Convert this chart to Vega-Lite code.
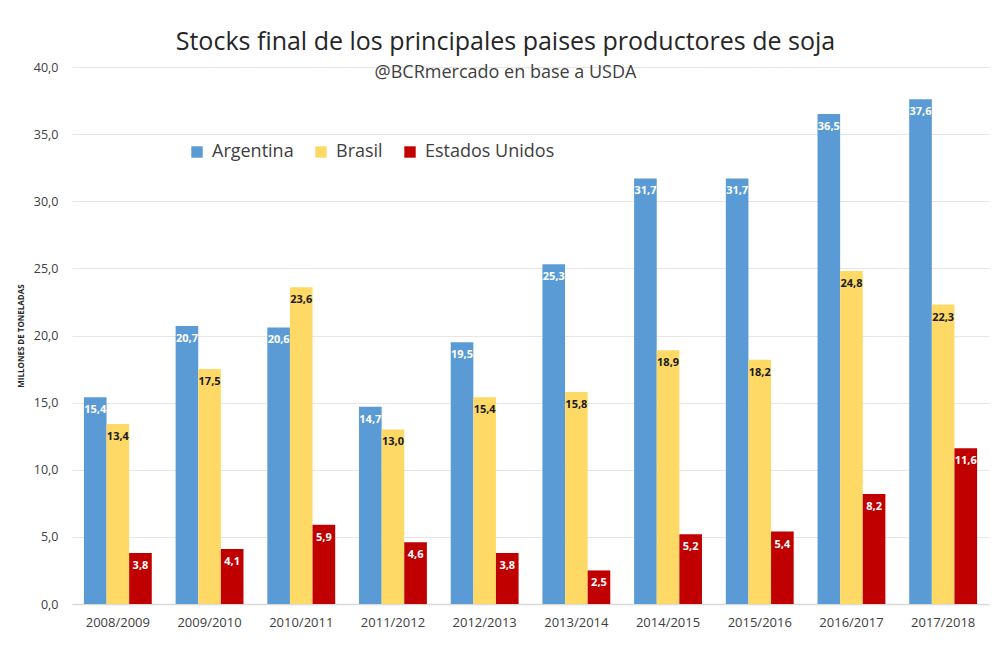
{
  "$schema": "https://vega.github.io/schema/vega-lite/v6.json",
  "width": 917,
  "height": 537,
  "autosize": {"type": "none"},
  "padding": {"left": 72, "top": 67, "right": 6, "bottom": 53},
  "background": "white",
  "config": {
    "locale": {"number": {"decimal": ",", "thousands": ".", "grouping": [3], "currency": ["", ""]}},
    "font": "Open Sans",
    "view": {"stroke": null}
  },
  "title": {
    "text": "Stocks final de los principales paises productores de soja",
    "subtitle": "@BCRmercado en base a USDA",
    "anchor": "middle",
    "fontSize": 25,
    "fontWeight": 500,
    "color": "#262626",
    "subtitleFontSize": 18,
    "subtitleColor": "#404040",
    "subtitlePadding": 9,
    "offset": -21,
    "dx": -25
  },
  "data": {
    "values": [
      {"season": "2008/2009", "series": "Argentina", "value": 15.4},
      {"season": "2008/2009", "series": "Brasil", "value": 13.4},
      {"season": "2008/2009", "series": "Estados Unidos", "value": 3.8},
      {"season": "2009/2010", "series": "Argentina", "value": 20.7},
      {"season": "2009/2010", "series": "Brasil", "value": 17.5},
      {"season": "2009/2010", "series": "Estados Unidos", "value": 4.1},
      {"season": "2010/2011", "series": "Argentina", "value": 20.6},
      {"season": "2010/2011", "series": "Brasil", "value": 23.6},
      {"season": "2010/2011", "series": "Estados Unidos", "value": 5.9},
      {"season": "2011/2012", "series": "Argentina", "value": 14.7},
      {"season": "2011/2012", "series": "Brasil", "value": 13.0},
      {"season": "2011/2012", "series": "Estados Unidos", "value": 4.6},
      {"season": "2012/2013", "series": "Argentina", "value": 19.5},
      {"season": "2012/2013", "series": "Brasil", "value": 15.4},
      {"season": "2012/2013", "series": "Estados Unidos", "value": 3.8},
      {"season": "2013/2014", "series": "Argentina", "value": 25.3},
      {"season": "2013/2014", "series": "Brasil", "value": 15.8},
      {"season": "2013/2014", "series": "Estados Unidos", "value": 2.5},
      {"season": "2014/2015", "series": "Argentina", "value": 31.7},
      {"season": "2014/2015", "series": "Brasil", "value": 18.9},
      {"season": "2014/2015", "series": "Estados Unidos", "value": 5.2},
      {"season": "2015/2016", "series": "Argentina", "value": 31.7},
      {"season": "2015/2016", "series": "Brasil", "value": 18.2},
      {"season": "2015/2016", "series": "Estados Unidos", "value": 5.4},
      {"season": "2016/2017", "series": "Argentina", "value": 36.5},
      {"season": "2016/2017", "series": "Brasil", "value": 24.8},
      {"season": "2016/2017", "series": "Estados Unidos", "value": 8.2},
      {"season": "2017/2018", "series": "Argentina", "value": 37.6},
      {"season": "2017/2018", "series": "Brasil", "value": 22.3},
      {"season": "2017/2018", "series": "Estados Unidos", "value": 11.6}
    ]
  },
  "encoding": {
    "x": {
      "field": "season",
      "type": "nominal",
      "sort": null,
      "scale": {"paddingInner": 0.26, "paddingOuter": 0.13},
      "axis": {
        "title": null,
        "labelAngle": 0,
        "labelFontSize": 13,
        "labelColor": "#404040",
        "labelPadding": 12,
        "ticks": false,
        "domainColor": "#d9d9d9",
        "domainWidth": 1.5
      }
    },
    "xOffset": {"field": "series", "type": "nominal", "scale": {"paddingInner": 0, "paddingOuter": 0}},
    "y": {
      "field": "value",
      "type": "quantitative",
      "scale": {"domain": [0, 40]},
      "axis": {
        "title": "MILLONES DE TONELADAS",
        "titleFontSize": 8,
        "titleFontWeight": "bold",
        "titleColor": "#262626",
        "titlePadding": 8,
        "values": [0, 5, 10, 15, 20, 25, 30, 35, 40],
        "format": ".1f",
        "labelFontSize": 12.5,
        "labelColor": "#404040",
        "labelPadding": 14,
        "ticks": false,
        "domain": false,
        "gridColor": "#e6e6e6",
        "gridWidth": 1
      }
    }
  },
  "layer": [
    {
      "mark": {"type": "bar"},
      "encoding": {
        "color": {
          "field": "series",
          "type": "nominal",
          "scale": {"domain": ["Argentina", "Brasil", "Estados Unidos"], "range": ["#5b9bd5", "#ffd966", "#c00000"]},
          "legend": {
            "title": null,
            "orient": "none",
            "direction": "horizontal",
            "legendX": 116,
            "legendY": 76,
            "labelFontSize": 18,
            "labelColor": "#404040",
            "symbolType": "square",
            "symbolSize": 130,
            "symbolStrokeWidth": 0,
            "columnPadding": 18,
            "labelOffset": 6
          }
        }
      }
    },
    {
      "mark": {"type": "text", "baseline": "top", "dy": 7, "fontSize": 11, "fontWeight": "bold"},
      "encoding": {
        "text": {"field": "value", "type": "quantitative", "format": ".1f"},
        "color": {
          "condition": {"test": "datum.series === 'Brasil'", "value": "#1a1a1a"},
          "value": "white"
        }
      }
    }
  ]
}
